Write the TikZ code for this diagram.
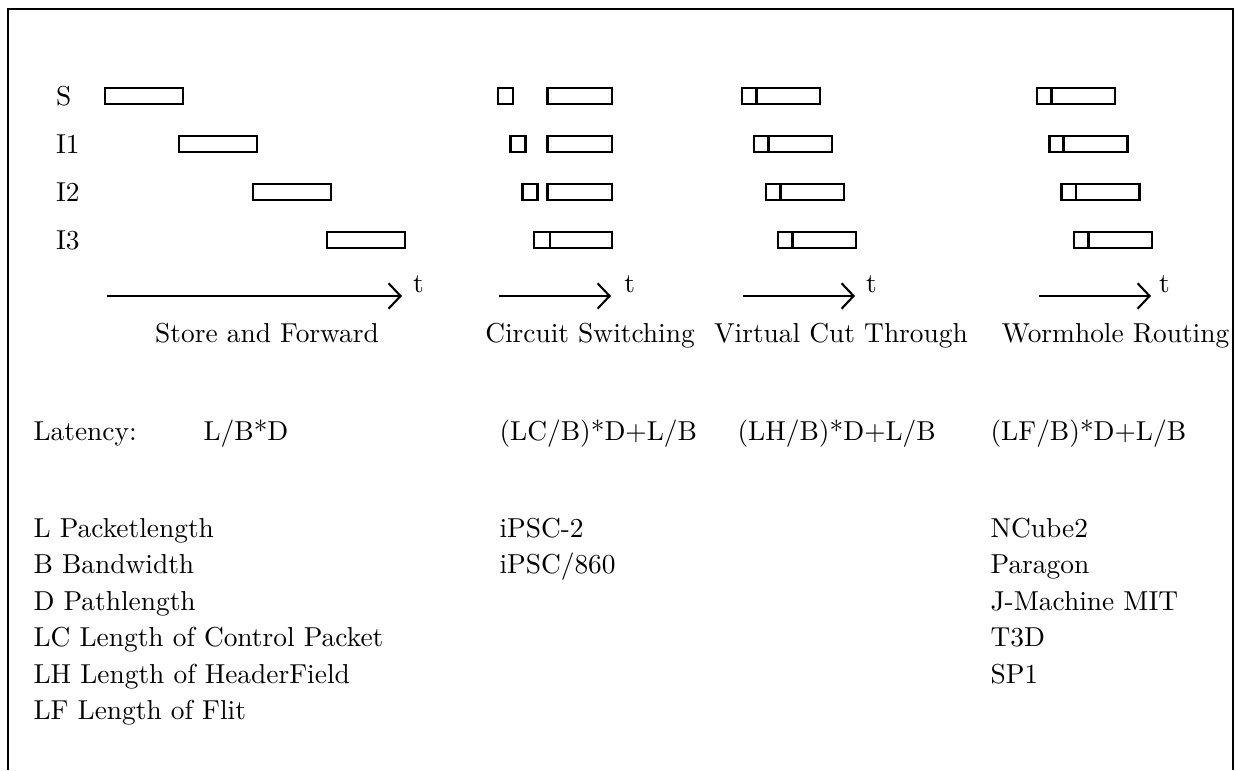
\documentclass[tikz,border=0pt]{standalone}
\usepackage{tikz}
\usetikzlibrary{arrows.meta}
\usetikzlibrary{positioning}
\tikzset{
    packet/.style={draw=black, line width=1pt},
    timeaxis/.style={draw=black, line width=0.8pt, -{Straight Barb[length=1.6mm, width=3.4mm, line width=0.8pt]}},
    tlabel/.style={inner sep=0pt},
    rowlabel/.style={anchor=west, inner sep=0pt},
    title/.style={anchor=base, inner sep=0pt},
    entry/.style={anchor=base west, inner sep=0pt}
}
% plain packet: left end at #1, length #2
\newcommand{\drawpacket}[2]{
    \begin{scope}[shift={(#1)}]
        \draw [packet] (0,-0.105) rectangle ++(#2,0.21);
    \end{scope}
}
% packet with header field of length #3
\newcommand{\drawheadpacket}[3]{
    \begin{scope}[shift={(#1)}]
        \draw [packet] (0,-0.105) rectangle ++(#2,0.21);
        \draw [packet] (#3,-0.105) -- ++(0,0.21);
    \end{scope}
}

\begin{document}
\begin{tikzpicture}[font=\fontsize{10.4pt}{12.5pt}\selectfont]
    \useasboundingbox (0,0) rectangle (16.5,10.271);
    % frame
    \draw [line width=0.8pt] (0.107,0) -- (0.107,10.151) -- (16.447,10.151) -- (16.447,0);
    % nodes
    \node [rowlabel] (S)  at (0.74,8.99) {S};
    \node [rowlabel] (I1) at (0.74,8.35) {I1};
    \node [rowlabel] (I2) at (0.74,7.71) {I2};
    \node [rowlabel] (I3) at (0.74,7.07) {I3};
    % store and forward
    \foreach \i in {0,...,3}
        \drawpacket{1.40+0.987*\i, 8.99-0.64*\i}{1.04};
    \coordinate (sf-a) at (1.427,6.323);
    \coordinate (sf-b) at (5.362,6.323);
    \draw [timeaxis] (sf-a) -- (sf-b);
    \node [tlabel, above right=0.03cm and 0.14cm of sf-b] (sf-t) {t};
    \node [title] (sf-title) at (3.562,5.70) {Store and Forward};
    % circuit switching
    \foreach \i in {0,1,2} {
        \drawpacket{6.643+0.164*\i, 8.99-0.64*\i}{0.20};
        \drawpacket{7.30, 8.99-0.64*\i}{0.863};
    }
    \drawheadpacket{7.123, 7.07}{1.04}{0.213};
    \coordinate (cs-a) at (6.656,6.323);
    \coordinate (cs-b) at (8.150,6.323);
    \draw [timeaxis] (cs-a) -- (cs-b);
    \node [tlabel, above right=0.03cm and 0.17cm of cs-b] (cs-t) {t};
    \node [title] (cs-title) at (7.87,5.70) {Circuit Switching};
    % virtual cut through
    \foreach \i in {0,...,3}
        \drawheadpacket{9.898+0.16*\i, 8.99-0.64*\i}{1.04}{0.19};
    \coordinate (vct-a) at (9.911,6.323);
    \coordinate (vct-b) at (11.405,6.323);
    \draw [timeaxis] (vct-a) -- (vct-b);
    \node [tlabel, above right=0.03cm and 0.14cm of vct-b] (vct-t) {t};
    \node [title] (vct-title) at (11.218,5.70) {Virtual Cut Through};
    % wormhole routing
    \foreach \i in {0,...,3}
        \drawheadpacket{13.833+0.164*\i, 8.99-0.64*\i}{1.04}{0.19};
    \coordinate (wr-a) at (13.859,6.323);
    \coordinate (wr-b) at (15.353,6.323);
    \draw [timeaxis] (wr-a) -- (wr-b);
    \node [tlabel, above right=0.03cm and 0.10cm of wr-b] (wr-t) {t};
    \node [title] (wr-title) at (14.88,5.70) {Wormhole Routing};
    % latency
    \node [entry] (latency) at (0.44,4.389) {Latency:};
    \node [entry] (sf-lat)  at (2.708,4.389) {L/B*D};
    \node [entry] (cs-lat)  at (6.656,4.389) {(LC/B)*D+L/B};
    \node [entry] (vct-lat) at (9.831,4.389) {(LH/B)*D+L/B};
    \node [entry] (wr-lat)  at (13.206,4.389) {(LF/B)*D+L/B};
    % legend and machines
    \foreach \txt [count=\n from 0] in {L Packetlength, B Bandwidth, D Pathlength,
        LC Length of Control Packet, LH Length of HeaderField, LF Length of Flit}
        \node [entry] (legend-\n) at (0.44,3.108-0.487*\n) {\txt};
    \foreach \txt [count=\n from 0] in {iPSC-2, iPSC/860}
        \node [entry] (cs-mach-\n) at (6.656,3.108-0.487*\n) {\txt};
    \foreach \txt [count=\n from 0] in {NCube2, Paragon, J-Machine MIT, T3D, SP1}
        \node [entry] (wr-mach-\n) at (13.206,3.108-0.487*\n) {\txt};
\end{tikzpicture}
\end{document}
